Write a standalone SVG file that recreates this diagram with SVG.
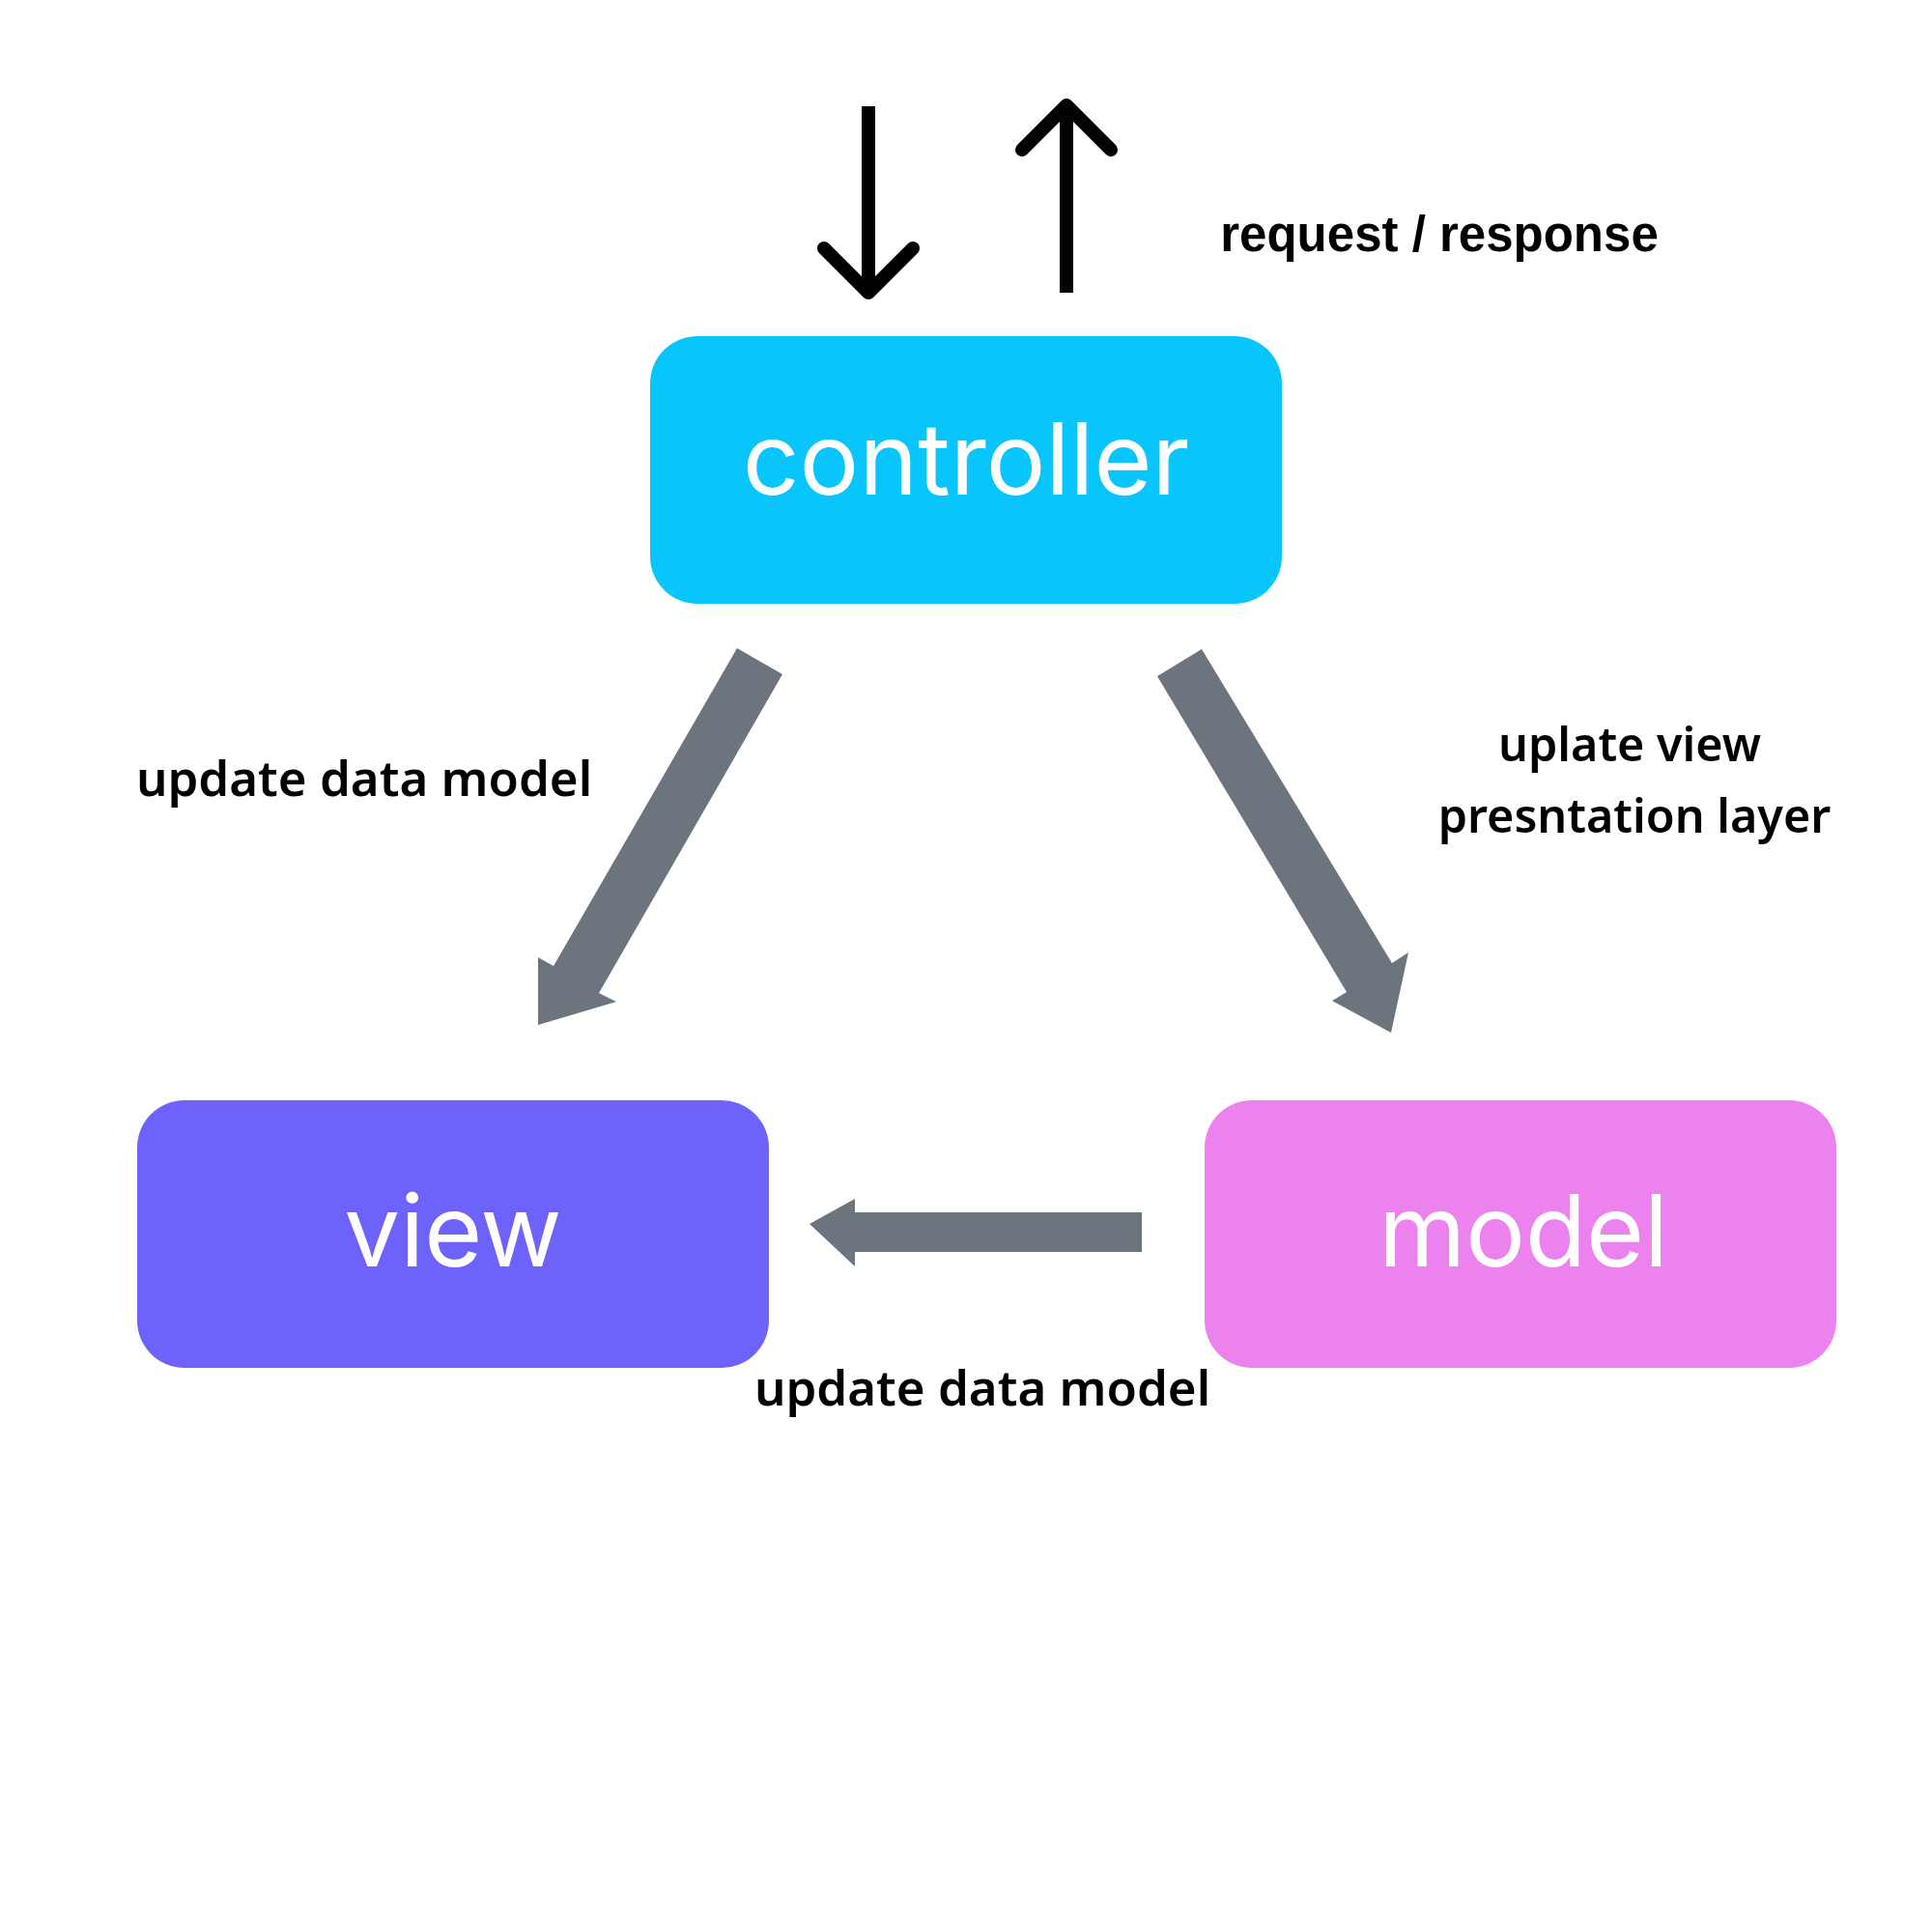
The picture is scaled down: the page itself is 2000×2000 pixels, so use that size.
<svg xmlns="http://www.w3.org/2000/svg" width="2000" height="2000" viewBox="0 0 2000 2000">
<style>
.node-label{font-family:Inter,"Liberation Sans",sans-serif;font-size:103px;fill:#ffffff;text-anchor:middle}
.lbl{font-family:"Noto Sans","Liberation Sans",sans-serif;font-weight:600;font-size:51px;fill:#000000;text-anchor:middle}
.lbl-r{font-size:48.5px}
.lbl2{font-family:"Liberation Sans",Arial,sans-serif;font-weight:700;font-size:51px;fill:#000000;text-anchor:middle}
.fat{fill:#6c757d}
.thin{fill:none;stroke:#000000;stroke-width:14}
.head{stroke-linecap:round;stroke-linejoin:round}
</style>
<rect width="2000" height="2000" fill="#ffffff"/>
<g id="controller">
<rect x="673" y="348" width="654" height="277" rx="49" ry="49" fill="#08c5fb"/>
<text class="node-label" x="1000" y="512">controller</text>
</g>
<g id="view">
<rect x="142" y="1139" width="654" height="277" rx="49" ry="49" fill="#6e62fd"/>
<text class="node-label" x="469" y="1311">view</text>
</g>
<g id="model">
<rect x="1247" y="1139" width="654" height="277" rx="49" ry="49" fill="#ec82ee"/>
<text class="node-label" x="1577" y="1311">model</text>
</g>
<g id="connectors">
<path class="thin" d="M899 110 V300"/>
<path class="thin head" d="M853 257 L899 303 L945 257"/>
<path class="thin" d="M1104 303 V113"/>
<path class="thin head" d="M1058 155 L1104 109 L1150 155"/>
<polygon class="fat" points="763,671 810,698 620,1028 638,1037 557,1061 557,991 573,1000"/>
<polygon class="fat" points="1244,672 1198,700 1394,1027 1379,1036 1440,1069 1458,986 1441,997"/>
<polygon class="fat" points="1182,1255 1182,1296 885,1296 885,1311 838,1267 885,1241 885,1255"/>
</g>
<g id="labels">
<text class="lbl2" x="1490" y="260">request / response</text>
<text class="lbl" x="377" y="824">update data model</text>
<text class="lbl lbl-r" x="1687" y="788">uplate view</text>
<text class="lbl lbl-r" x="1692" y="862">presntation layer</text>
<text class="lbl" x="1017" y="1455">update data model</text>
</g>
</svg>
